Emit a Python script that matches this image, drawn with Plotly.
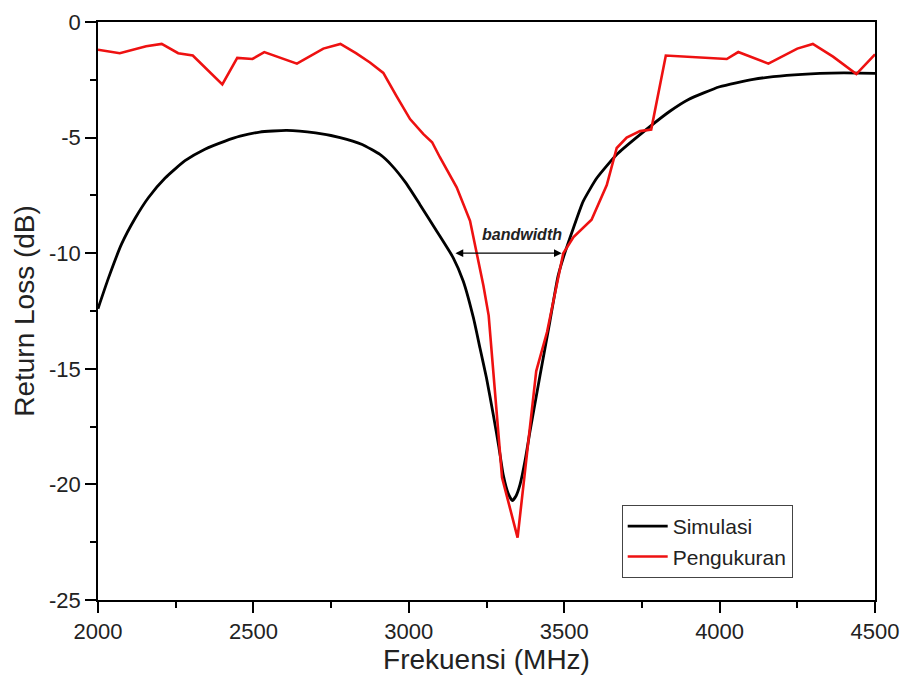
import plotly.graph_objects as go

sim_f = [2000, 2033, 2076, 2119, 2162, 2216, 2280, 2344, 2409, 2457, 2520, 2607, 2700, 2779,
         2850, 2907, 2945, 2990, 3036, 3090, 3143, 3175, 3208, 3229, 3250, 3272, 3290, 3304, 3320,
         3333, 3345, 3358, 3375, 3390, 3422, 3454, 3480, 3497, 3530, 3561, 3605, 3669, 3744,
         3840, 3900, 4000, 4108, 4216, 4323, 4400, 4500]
sim_db = [-12.4, -11.1, -9.6, -8.5, -7.6, -6.75, -6.0, -5.5, -5.15, -4.94, -4.76, -4.69, -4.8, -5.0,
          -5.3, -5.73, -6.2, -6.95, -7.9, -9.05, -10.2, -11.2, -12.8, -14.1, -15.4, -17.0, -18.4, -19.6, -20.4,
          -20.7, -20.5, -20.0, -18.9, -17.7, -15.3, -12.95, -11.0, -10.2, -8.9, -7.76, -6.75, -5.73, -4.87,
          -3.86, -3.35, -2.8, -2.48, -2.31, -2.22, -2.2, -2.22]

meas_f = [2000, 2070, 2155, 2205, 2258, 2305, 2400, 2448, 2497, 2535, 2640, 2725, 2780, 2830,
          2875, 2918, 2960, 3004, 3047, 3075, 3100, 3154, 3197, 3219, 3240, 3257, 3300, 3350,
          3410, 3445, 3475, 3497, 3530, 3588, 3637, 3669, 3701, 3744, 3780, 3827, 4023, 4060,
          4157, 4250, 4300, 4365, 4440, 4500]
meas_db = [-1.2, -1.35, -1.05, -0.95, -1.35, -1.45, -2.7, -1.55, -1.6, -1.3, -1.8, -1.15, -0.95, -1.35,
           -1.75, -2.2, -3.2, -4.2, -4.85, -5.2, -5.85, -7.15, -8.6, -10.05, -11.4, -12.7, -19.7, -22.3,
           -15.1, -13.4, -11.4, -10.0, -9.3, -8.55, -7.05, -5.45, -5.0, -4.72, -4.65, -1.45, -1.6, -1.3,
           -1.8, -1.15, -0.95, -1.5, -2.25, -1.4]

bw_low, bw_high, bw_level = 3150, 3497, -10
bw_label = "bandwidth"

x_ticks = [2000, 2500, 3000, 3500, 4000, 4500]
y_ticks = [0, -5, -10, -15, -20, -25]

FONT = "Liberation Sans, Arial, sans-serif"
TXT = "#222"

fig = go.Figure()
fig.add_trace(go.Scatter(x=sim_f, y=sim_db, mode="lines", name="Simulasi",
                         line=dict(color="black", width=2.8, shape="spline", smoothing=0.5)))
fig.add_trace(go.Scatter(x=meas_f, y=meas_db, mode="lines", name="Pengukuran",
                         line=dict(color="#ee1111", width=2.6)))

fig.add_annotation(x=bw_low, y=bw_level, ax=bw_high, ay=bw_level, xref="x", yref="y",
                   axref="x", ayref="y", showarrow=True, arrowhead=2, arrowside="end+start",
                   arrowwidth=1.3, arrowsize=1.2, arrowcolor="black", text="")
fig.add_annotation(x=3365, y=-9.2, xref="x", yref="y",
                   showarrow=False, text="<b><i>" + bw_label + "</i></b>",
                   font=dict(family=FONT, size=16, color=TXT))

axis_common = dict(showline=True, linecolor="black", linewidth=1.8, mirror=True,
                   ticks="outside", ticklen=11, tickwidth=1.8, tickcolor="black",
                   showgrid=False, zeroline=False, automargin=False,
                   tickfont=dict(family=FONT, size=22, color=TXT))

fig.update_xaxes(range=[2000, 4500], tickvals=x_ticks, ticktext=[str(v) for v in x_ticks],
                 title=dict(text="Frekuensi (MHz)", font=dict(family=FONT, size=28, color=TXT),
                            standoff=4),
                 minor=dict(ticks="outside", ticklen=6, tickwidth=1.8, tickcolor="black", dtick=250),
                 **axis_common)
fig.update_yaxes(range=[-25, 0], tickvals=y_ticks, ticktext=[str(v) for v in y_ticks],
                 title=dict(text="Return Loss (dB)", font=dict(family=FONT, size=28, color=TXT),
                            standoff=6),
                 minor=dict(ticks="outside", ticklen=6, tickwidth=1.8, tickcolor="black", dtick=2.5),
                 **axis_common)

fig.update_layout(
    width=902, height=675,
    margin=dict(l=98, r=27, t=22, b=75),
    paper_bgcolor="white", plot_bgcolor="white",
    font=dict(family=FONT, size=21, color=TXT),
    legend=dict(x=0.674, y=0.038, xanchor="left", yanchor="bottom",
                bordercolor="#444", borderwidth=1, bgcolor="white",
                font=dict(family=FONT, size=21, color=TXT),
                itemwidth=40, tracegroupgap=0),
    showlegend=True,
)

fig.write_html("out.html", config={"displayModeBar": False},
               post_script="document.body.style.margin='0';")
